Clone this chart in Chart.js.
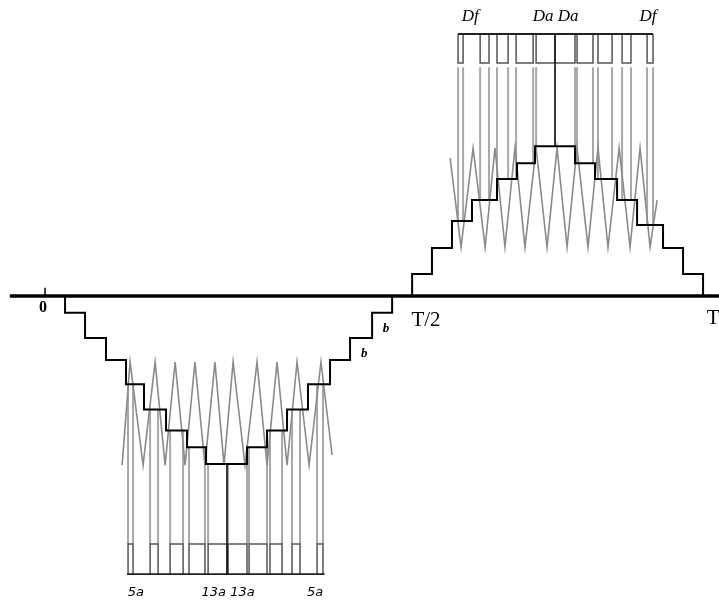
<!DOCTYPE html>
<html>
<head>
<meta charset="utf-8">
<script src="https://cdn.jsdelivr.net/npm/chart.js@4"></script>
<style>
  html, body { margin: 0; padding: 0; background: #fff; }
  #wrap { width: 719px; height: 602px; }
</style>
</head>
<body>
<div id="wrap"><canvas id="pwm"></canvas></div>
<script>
// x: angle in the period (T = 360), y: level in step units

// negative half-wave staircase (x where each step happens, level after it)
const negStepX = [10.8, 21.6, 32.9, 43.7, 53.4, 65.3, 76.6, 86.9, 109.0, 119.8, 130.6, 141.9, 153.8, 164.6, 176.5, 187.3];
const negStepLevel = [-0.8, -2.0, -3.05, -4.2, -5.4, -6.4, -7.2, -8.0, -7.2, -6.4, -5.4, -4.2, -3.05, -2.0, -0.8, 0];

// positive half-wave staircase
const posStepX = [198.1, 208.8, 219.6, 230.4, 243.9, 254.7, 264.4, 286.0, 296.8, 308.7, 319.5, 333.5, 344.3, 355.1];
const posStepLevel = [1.05, 2.29, 3.57, 4.57, 5.57, 6.33, 7.14, 6.33, 5.57, 4.57, 3.38, 2.29, 1.05, 0];

// triangular carriers (corner points)
const negCarrierX = [41.6, 45.9, 52.9, 59.4, 64.8, 70.2, 75.6, 80.9, 86.3, 91.7, 96.6, 101.5, 107.9, 114.4, 119.8, 125.2, 130.6, 136.0, 142.5, 148.9, 154.9];
const negCarrierY = [-8.05, -3.14, -8.05, -3.14, -8.05, -3.14, -8.05, -3.14, -8.05, -3.14, -8.05, -3.14, -8.05, -3.14, -8.05, -3.14, -8.05, -3.14, -8.05, -3.14, -7.57];
const posCarrierX = [218.6, 224.5, 231.0, 237.5, 242.8, 248.2, 253.6, 259.0, 265.0, 270.9, 276.3, 281.7, 287.1, 293.0, 298.4, 303.8, 309.8, 315.7, 321.1, 326.5, 330.3];
const posCarrierY = [6.57, 2.33, 7.05, 2.33, 7.05, 2.33, 7.05, 2.33, 7.05, 2.33, 7.05, 2.33, 7.05, 2.33, 7.05, 2.33, 7.05, 2.33, 7.05, 2.33, 4.57];

// pulse trains: edges of each pulse
const negPulseOn  = [44.8, 56.7, 67.5, 77.7, 88.0, 98.8, 110.1, 121.4, 133.3, 146.8];
const negPulseOff = [47.5, 61.0, 74.5, 86.3, 98.2, 109.0, 119.8, 127.9, 137.6, 150.0];
const posPulseOn  = [222.9, 234.8, 243.9, 254.2, 265.0, 275.2, 287.1, 298.4, 311.4, 324.9];
const posPulseOff = [225.6, 239.6, 249.9, 263.4, 275.2, 286.0, 295.7, 306.0, 316.2, 328.1];

const negPulseBase = -13.24, negPulseHigh = -11.81;
const posPulseBase = 12.48, posPulseLow = 11.10, posLinkTop = 10.9;
const negCenterX = 98.2, posCenterX = 275.2;

function stairAt(xs, levels, x) {
  let lvl = 0;
  for (let i = 0; i < xs.length; i++) {
    if (x >= xs[i] - 0.01) lvl = levels[i];
  }
  return lvl;
}

function stairPoints(xs, levels) {
  const pts = [{ x: xs[0], y: 0 }];
  xs.forEach((x, i) => pts.push({ x: x, y: levels[i] }));
  return pts;
}

function zip(xs, ys) {
  return xs.map((x, i) => ({ x: x, y: ys[i] }));
}

// pulses drawn as boxes standing on (or hanging from) a continuous base line
function pulseBoxes(on, off, base, level) {
  const pts = [];
  on.forEach((x, i) => {
    pts.push({ x: x, y: base }, { x: x, y: level }, { x: off[i], y: level }, { x: off[i], y: base }, { x: x, y: null });
  });
  return pts;
}

function links(xs, topFn, bottom) {
  const pts = [];
  xs.forEach(x => {
    pts.push({ x: x, y: topFn(x) }, { x: x, y: bottom }, { x: x, y: null });
  });
  return pts;
}

const negEdges = negPulseOn.concat(negPulseOff);
const posEdges = posPulseOn.concat(posPulseOff);

const labels = [
  { text: '0', x: -1.1, y: -0.55, font: 'bold 16px "Liberation Serif"' },
  { text: 'T/2', x: 205.6, y: -1.14, font: '21px "Liberation Serif"' },
  { text: 'T', x: 360.5, y: -1.05, font: '21px "Liberation Serif"' },
  { text: 'b', x: 184.0, y: -1.57, font: 'italic bold 13px "Liberation Serif"' },
  { text: 'b', x: 172.2, y: -2.76, font: 'italic bold 13px "Liberation Serif"' },
  { text: 'Df', x: 229.4, y: 13.3, font: 'italic 17px "Liberation Serif"' },
  { text: 'Da Da', x: 275.5, y: 13.3, font: 'italic 17px "Liberation Serif"' },
  { text: 'Df', x: 325.4, y: 13.3, font: 'italic 17px "Liberation Serif"' },
  { text: '5a', x: 49.0, y: -14.1, font: 'italic 13px "DejaVu Sans"' },
  { text: '13a 13a', x: 98.8, y: -14.1, font: 'italic 13px "DejaVu Sans"' },
  { text: '5a', x: 145.7, y: -14.1, font: 'italic 13px "DejaVu Sans"' }
];

const textPlugin = {
  id: 'texts',
  afterDraw(chart) {
    const ctx = chart.ctx, sx = chart.scales.x, sy = chart.scales.y;
    ctx.save();
    ctx.fillStyle = '#000';
    ctx.textAlign = 'center';
    ctx.textBaseline = 'middle';
    labels.forEach(l => {
      ctx.font = l.font;
      ctx.fillText(l.text, sx.getPixelForValue(l.x), sy.getPixelForValue(l.y));
    });
    ctx.restore();
  }
};

function line(data, color, width) {
  return { data: data, borderColor: color, borderWidth: width, pointRadius: 0, showLine: true, spanGaps: false, fill: false, tension: 0 };
}

const negFirst = negPulseOn[0], negLast = negPulseOff[negPulseOff.length - 1];
const posFirst = posPulseOn[0], posLast = posPulseOff[posPulseOff.length - 1];

const ctx = document.getElementById('pwm').getContext('2d');
new Chart(ctx, {
  type: 'scatter',
  data: {
    datasets: [
      line([{ x: -19, y: 0 }, { x: 364, y: 0 }], '#000', 3.5),
      line([{ x: 0, y: 0 }, { x: 0, y: 0.4 }], '#000', 1.5),
      Object.assign(line(stairPoints(negStepX, negStepLevel), '#000', 2), { stepped: 'before' }),
      Object.assign(line(stairPoints(posStepX, posStepLevel), '#000', 2), { stepped: 'before' }),
      line([{ x: negCenterX, y: -8.0 }, { x: negCenterX, y: negPulseBase }], '#111', 1.5),
      line([{ x: posCenterX, y: posPulseBase }, { x: posCenterX, y: 7.14 }], '#111', 1.5),
      line([{ x: negFirst - 0.5, y: negPulseBase }, { x: negLast + 0.8, y: negPulseBase }], '#222', 1.8),
      line([{ x: posFirst, y: posPulseBase }, { x: posLast, y: posPulseBase }], '#222', 1.8),
      line(pulseBoxes(negPulseOn, negPulseOff, negPulseBase, negPulseHigh), '#555', 1.5),
      line(pulseBoxes(posPulseOn, posPulseOff, posPulseBase, posPulseLow), '#555', 1.5),
      line(zip(negCarrierX, negCarrierY), '#8a8a8a', 1.6),
      line(zip(posCarrierX, posCarrierY), '#8a8a8a', 1.6),
      line(links(negEdges, x => stairAt(negStepX, negStepLevel, x), negPulseHigh), '#a8a8a8', 2),
      line(links(posEdges, x => stairAt(posStepX, posStepLevel, x), posLinkTop), '#a8a8a8', 2)
    ]
  },
  options: {
    responsive: true,
    maintainAspectRatio: false,
    animation: false,
    layout: { padding: 0 },
    plugins: { legend: { display: false }, tooltip: { enabled: false } },
    scales: {
      x: { type: 'linear', display: false, min: -24.3, max: 363.7 },
      y: { type: 'linear', display: false, min: -14.57, max: 14.1 }
    }
  },
  plugins: [textPlugin]
});
</script>
</body>
</html>
